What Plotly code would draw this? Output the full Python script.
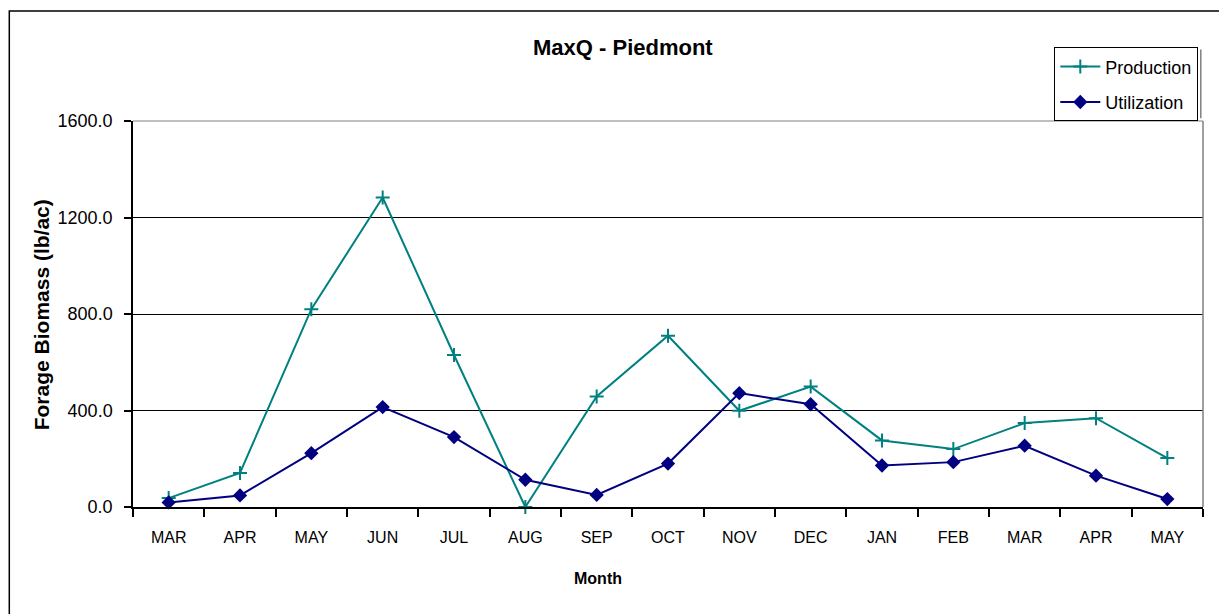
import plotly.graph_objects as go

months = ["MAR", "APR", "MAY", "JUN", "JUL", "AUG", "SEP", "OCT",
          "NOV", "DEC", "JAN", "FEB", "MAR", "APR", "MAY"]
production = [37, 141, 820, 1283, 630, 0, 458, 710, 399, 499, 276, 240, 348, 368, 203]
utilization = [19, 48, 223, 414, 290, 113, 50, 180, 472, 426, 172, 186, 254, 130, 33]

x_idx = list(range(len(months)))
FONT = "Liberation Sans, Arial, sans-serif"

W, H = 1227, 614
OFF = 8  # page body margin offset
# plot area in page pixels
L, R, T, B = 132.7, 1202.7, 120.7, 507.3
pw, ph = R - L, B - T

def px(xp):
    return (xp - L) / pw

def py(yp):
    return (B - yp) / ph

fig = go.Figure()
fig.add_trace(go.Scatter(
    x=x_idx, y=production, name="Production", mode="lines+markers",
    line=dict(color="#008080", width=2),
    marker=dict(symbol="cross-thin", size=10, line=dict(color="#008080", width=2)),
    legendgroup="a", cliponaxis=False,
))
fig.add_trace(go.Scatter(
    x=x_idx, y=utilization, name="Utilization", mode="lines+markers",
    line=dict(color="#000080", width=2),
    marker=dict(symbol="diamond", size=11, color="#000080"),
    legendgroup="b", cliponaxis=False,
))

shapes = [
    dict(type="rect", xref="paper", yref="paper",
         x0=px(9), x1=px(1240), y0=py(625), y1=py(10.5),
         line=dict(color="black", width=1.5), layer="below"),
    dict(type="line", xref="paper", yref="paper", x0=0, x1=1, y0=1, y1=1,
         line=dict(color="#808080", width=1)),
    dict(type="line", xref="paper", yref="paper", x0=1, x1=1, y0=0, y1=1,
         line=dict(color="#808080", width=1.5)),
    # legend shadow on right edge
    dict(type="line", xref="paper", yref="paper", x0=px(1200.5), x1=px(1200.5),
         y0=py(118), y1=py(49), line=dict(color="#808080", width=1.5)),
]

fig.update_layout(
    width=W, height=H,
    margin=dict(l=L - OFF, r=W - (R - OFF), t=T - OFF, b=H - (B - OFF), autoexpand=False),
    paper_bgcolor="white", plot_bgcolor="white",
    font=dict(family=FONT, color="black"),
    showlegend=True,
    legend=dict(
        x=px(1054), y=py(47), xanchor="left", yanchor="top",
        bgcolor="white", bordercolor="black", borderwidth=1,
        font=dict(size=18, family=FONT), tracegroupgap=9,
        itemwidth=40,
    ),
    shapes=shapes,
    annotations=[
        dict(text="<b>MaxQ - Piedmont</b>", xref="paper", yref="paper",
             x=px(623), y=py(47), showarrow=False, xanchor="center", yanchor="middle",
             font=dict(size=22, family=FONT)),
        dict(text="<b>Forage Biomass (lb/ac)</b>", xref="paper", yref="paper",
             x=px(42), y=py(315), showarrow=False, textangle=-90,
             xanchor="center", yanchor="middle",
             font=dict(size=21, family=FONT)),
        dict(text="<b>Month</b>", xref="paper", yref="paper",
             x=px(597.5), y=py(579), showarrow=False,
             xanchor="center", yanchor="middle",
             font=dict(size=16, family=FONT)),
    ],
)

fig.update_xaxes(
    range=[-0.5, len(months) - 0.5], tickmode="array", tickvals=x_idx, ticktext=months,
    ticks="", showgrid=False, zeroline=False,
    showline=True, linecolor="black", linewidth=1.5,
    tickfont=dict(size=16, family=FONT), ticklabelstandoff=15,
    minor=dict(tickmode="linear", tick0=-0.5, dtick=1, ticks="outside",
               ticklen=8, tickwidth=1.5, tickcolor="black", showgrid=False),
)
fig.update_yaxes(
    range=[0, 1600], tickmode="array", tickvals=[0, 400, 800, 1200, 1600],
    tickformat=".1f", ticks="outside", ticklen=7, tickwidth=1.5, tickcolor="black",
    showgrid=True, gridcolor="black", gridwidth=1, zeroline=False,
    showline=True, linecolor="black", linewidth=1.5,
    tickfont=dict(size=18, family=FONT), ticklabelstandoff=8,
)

fig.write_html("out.html")
